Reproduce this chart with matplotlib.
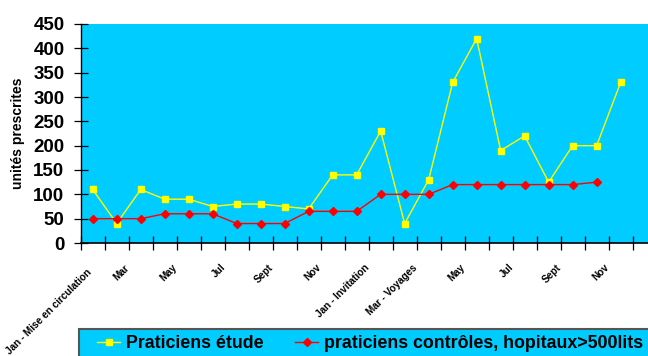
import numpy as np
import matplotlib
matplotlib.use("Agg")
import matplotlib.pyplot as plt
from matplotlib.ticker import FixedLocator, NullFormatter
from matplotlib.transforms import ScaledTranslation
from matplotlib.patches import Rectangle

plt.rcParams['font.family'] = ['Liberation Sans', 'DejaVu Sans']

# Monthly categories over two years
months = ["Jan - Mise en circulation", "Feb", "Mar", "Apr", "May", "Jun", "Jul", "Aug",
          "Sept", "Oct", "Nov", "Dec",
          "Jan - Invitation", "Feb", "Mar - Voyages", "Apr", "May", "Jun", "Jul", "Aug",
          "Sept", "Oct", "Nov", "Dec"]
shown_labels = ["Jan - Mise en circulation", "", "Mar", "", "May", "", "Jul", "",
                "Sept", "", "Nov", "",
                "Jan - Invitation", "", "Mar - Voyages", "", "May", "", "Jul", "",
                "Sept", "", "Nov", ""]

# Units prescribed
praticiens_etude = [110, 40, 110, 90, 90, 75, 80, 80, 75, 70, 140, 140,
                    230, 40, 130, 330, 420, 190, 220, 125, 200, 200, 330, np.nan]
praticiens_controles = [50, 50, 50, 60, 60, 60, 40, 40, 40, 65, 65, 65,
                        100, 100, 100, 120, 120, 120, 120, 120, 120, 125, np.nan, np.nan]

W, H = 648, 356
fig = plt.figure(figsize=(W / 100, H / 100), dpi=100)
fig.patch.set_facecolor("white")

left, bottom, top = 80.7, 243, 24
ax = fig.add_axes([left / W, 1 - bottom / H, 1 - left / W, (bottom - top) / H])
ax.set_facecolor("#00CCFF")

x = np.arange(len(months))
l1, = ax.plot(x, praticiens_etude, color="#FFFF00", lw=1.0, marker="s", ms=4.2,
              mec="#FFFF00", mfc="#FFFF00", label="Praticiens étude", zorder=3)
l2, = ax.plot(x, praticiens_controles, color="#FF0000", lw=1.0, marker="D", ms=4.2,
              mec="#FF0000", mfc="#FF0000",
              label="praticiens contrôles, hopitaux>500lits", zorder=4)

ax.set_xlim(-0.5, 23.14)
ax.set_ylim(0, 450)
ax.set_yticks(np.arange(0, 451, 50))
ax.tick_params(axis="y", direction="inout", length=9.5, width=0.9, pad=7,
               labelsize=13.5)
for t in ax.get_yticklabels():
    t.set_fontweight("bold")

# Category boundaries carry the tick marks, labels hang below the centres
ax.xaxis.set_major_locator(FixedLocator(np.arange(-0.5, 24, 1)))
ax.xaxis.set_major_formatter(NullFormatter())
ax.xaxis.set_minor_locator(FixedLocator(x))
xlabels = ax.set_xticklabels(shown_labels, minor=True, rotation=45, ha="right",
                             va="center", rotation_mode="anchor",
                             fontsize=7.2, fontweight="bold")
ax.tick_params(axis="x", which="major", direction="inout", length=9.5, width=0.9)
ax.tick_params(axis="x", which="minor", length=0, pad=0)
for i, lab in enumerate(xlabels):
    dx, dy = (-0.03, -0.28) if i == 0 else (-0.13, -0.23)
    lab.set_transform(lab.get_transform() + ScaledTranslation(dx, dy, fig.dpi_scale_trans))

for s in ("top", "right"):
    ax.spines[s].set_visible(False)
ax.spines["left"].set_linewidth(1.0)
ax.spines["bottom"].set_linewidth(1.2)

ax.set_ylabel("unités prescrites", fontsize=10, fontweight="bold", labelpad=6)

# Legend box along the bottom edge
fig.patches.append(Rectangle((79 / W, -0.2), 1.0, 0.2 + (356 - 329) / H,
                             transform=fig.transFigure, facecolor="#00CCFF",
                             edgecolor="#555555", linewidth=1.5, zorder=0))
leg = fig.legend(handles=[l1, l2], loc="center left",
                 bbox_to_anchor=(97 / W, 1 - 344 / H), ncol=2, frameon=False,
                 handlelength=1.3, handletextpad=0.35, columnspacing=1.75,
                 borderpad=0, borderaxespad=0,
                 prop={"weight": "bold", "size": 12.8})

fig.savefig("out.png", dpi=100)
